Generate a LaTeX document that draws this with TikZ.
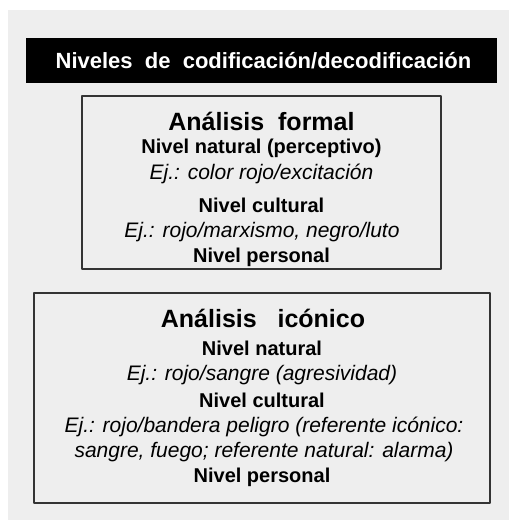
\documentclass[tikz,border=0pt]{standalone}
\usepackage{fontspec}
\setmainfont{Liberation Sans}
\definecolor{panelgray}{HTML}{EEEEEE}
\definecolor{framegray}{HTML}{333333}
\begin{document}
\begin{tikzpicture}[x=1pt,y=-1pt,line join=round,
	head/.style={white,font=\fontsize{22}{26}\selectfont\bfseries},
	title/.style={font=\fontsize{25}{28}\selectfont\bfseries},
	level/.style={font=\fontsize{20}{23}\selectfont\bfseries},
	example/.style={font=\fontsize{21}{24}\selectfont\itshape},
	frame/.style={draw=framegray,line width=1.5pt}]
		\useasboundingbox (0,0) rectangle (518,520);
		\fill[panelgray] (8,10) rectangle (509,520);
		% heading bar
		\fill[black] (26,38) rectangle (497,83);
		\node[head] (heading) at (263.5,60.5) {Niveles\ \ de\ \ codificación/decodificación};
		% formal analysis
		\draw[frame] (82,96) rectangle (441,269);
		\node[title] (formal) at (261.5,121) {Análisis\ \ formal};
		\node[level] (fnat) at (261.5,148) {Nivel natural (perceptivo)};
		\node[example] (fnatex) at (261.5,174) {Ej.: color rojo/excitación};
		\node[level] (fcul) at (261.5,205) {Nivel cultural};
		\node[example] (fculex) at (262,232) {Ej.: rojo/marxismo, negro/luto};
		\node[level] (fper) at (261.5,257) {Nivel personal};
		% iconic analysis
		\draw[frame] (34,293) rectangle (490,503);
		\node[title] (iconic) at (263,318) {Análisis\ \ \ icónico};
		\node[level] (inat) at (262,348) {Nivel natural};
		\node[example] (inatex) at (262,375) {Ej.: rojo/sangre (agresividad)};
		\node[level] (icul) at (262,400) {Nivel cultural};
		\node[example] (iculex) at (264,427) {Ej.: rojo/bandera peligro (referente icónico:};
		\node[example] (iculex2) at (264,452) {sangre, fuego; referente natural: alarma)};
		\node[level] (iper) at (262,477) {Nivel personal};
\end{tikzpicture}
\end{document}
